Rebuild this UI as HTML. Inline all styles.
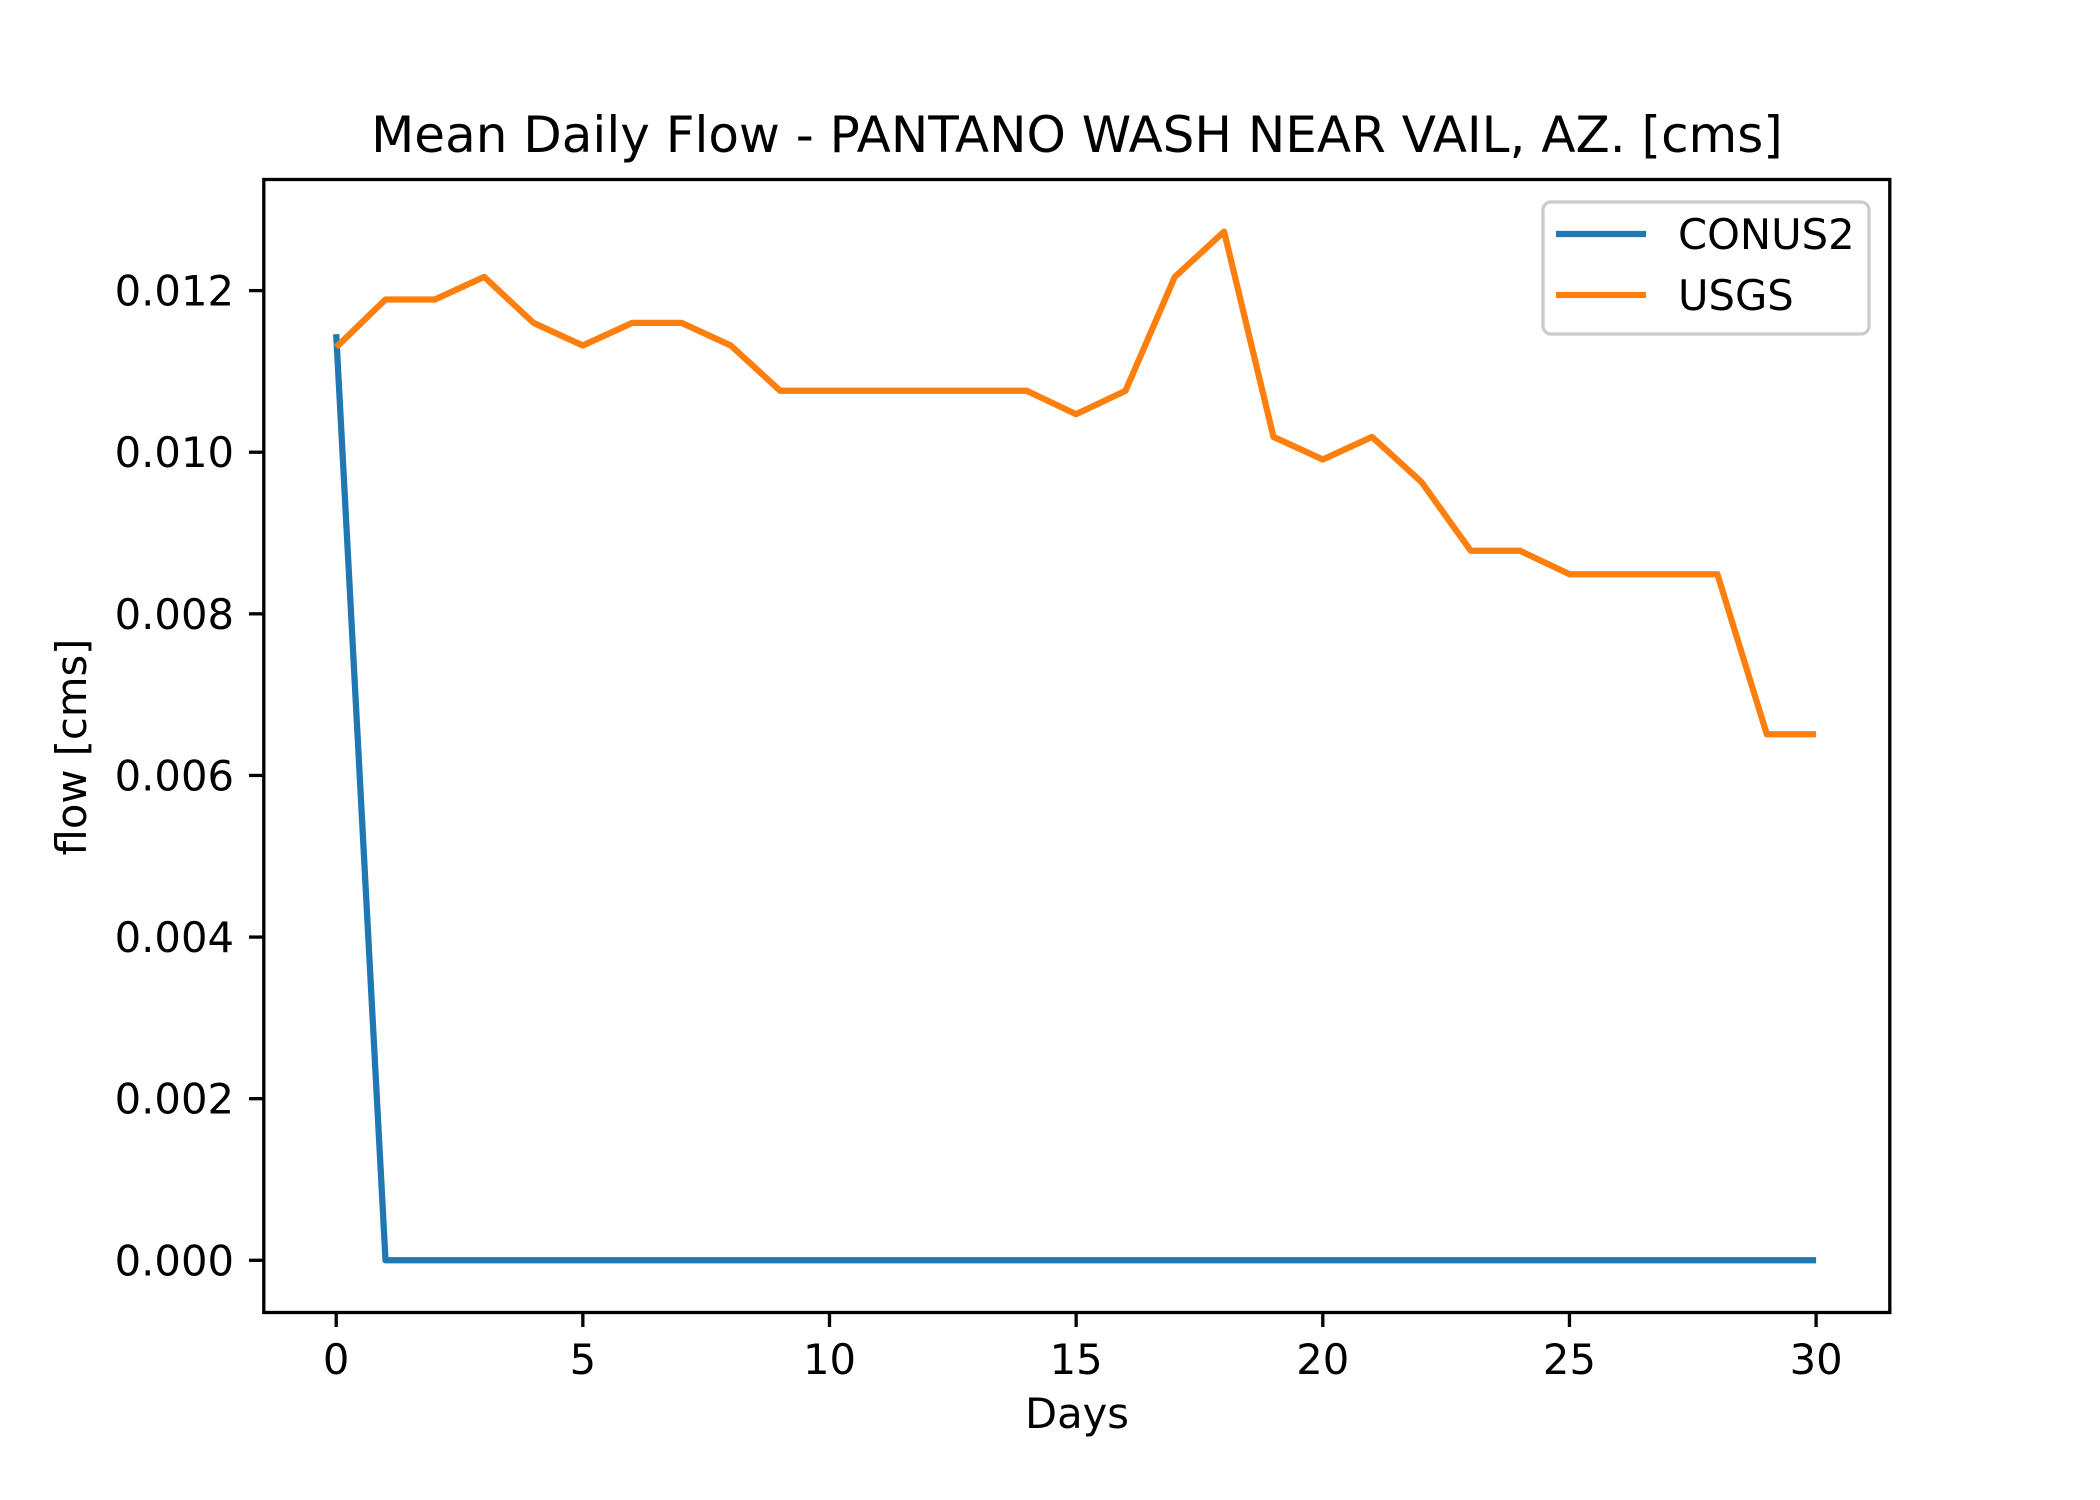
<!DOCTYPE html>
<html><head><meta charset="utf-8"><style>
html,body{margin:0;padding:0;background:#fff}
svg{display:block}
text{font-family:"DejaVu Sans","Liberation Sans",sans-serif;fill:#000}
</style></head><body>
<svg id="chart" width="2100" height="1500" viewBox="0 0 2100 1500" xmlns="http://www.w3.org/2000/svg">
<rect width="2100" height="1500" fill="#fff"/>
<text x="1077" y="152" font-size="50" text-anchor="middle">Mean Daily Flow - PANTANO WASH NEAR VAIL, AZ. [cms]</text>
<g id="grid"></g>
<g id="series"></g>
<rect x="263.8" y="179.5" width="1626" height="1133" fill="none" stroke="#000" stroke-width="3.3"/>
<g id="xticks"></g>
<g id="yticks"></g>
<text x="1077" y="1428" font-size="41.7" text-anchor="middle">Days</text>
<text transform="translate(86,747) rotate(-90)" font-size="41.7" text-anchor="middle">flow [cms]</text>
<g>
<rect x="1543" y="202" width="326" height="132" rx="8" fill="#fff" fill-opacity="0.8" stroke="#ccc" stroke-width="3.3"/>
<line x1="1556" y1="234" x2="1646" y2="234" stroke="#1f77b4" stroke-width="6.25"/>
<text x="1678" y="249" font-size="41.7">CONUS2</text>
<line x1="1556" y1="295" x2="1646" y2="295" stroke="#ff7f0e" stroke-width="6.25"/>
<text x="1678" y="310" font-size="41.7">USGS</text>
</g>
</svg>
<script>
const days = [0,1,2,3,4,5,6,7,8,9,10,11,12,13,14,15,16,17,18,19,20,21,22,23,24,25,26,27,28,29,30];
const conus2 = [0.01146,0,0,0,0,0,0,0,0,0,0,0,0,0,0,0,0,0,0,0,0,0,0,0,0,0,0,0,0,0,0];
const usgs = [0.0113,0.01189,0.01189,0.01217,0.0116,0.01132,0.0116,0.0116,0.01132,0.01076,0.01076,0.01076,0.01076,0.01076,0.01076,0.01047,0.01076,0.01217,0.01273,0.01019,0.00991,0.01019,0.00963,0.00878,0.00878,0.00849,0.00849,0.00849,0.00849,0.00651,0.00651];
const xTicks = [0,5,10,15,20,25,30];
const yTicks = [0,0.002,0.004,0.006,0.008,0.010,0.012];
const yTickLabels = ["0.000","0.002","0.004","0.006","0.008","0.010","0.012"];

const NS = "http://www.w3.org/2000/svg";
function xs(v){ return 336.2 + (v - 0) * (1816.1 - 336.2) / 30; }
function ys(v){ return 1260.3 - v * (1260.3 - 290.6) / 0.012; }

const series = document.getElementById('series');
function drawLine(vals, color, name){
  const p = document.createElementNS(NS, 'polyline');
  p.setAttribute('points', days.map((d,i)=>xs(d).toFixed(1)+','+ys(vals[i]).toFixed(1)).join(' '));
  p.setAttribute('fill','none');
  p.setAttribute('stroke',color);
  p.setAttribute('stroke-width','6.25');
  p.setAttribute('stroke-linejoin','round');
  
  
  series.appendChild(p);
}
drawLine(conus2, '#1f77b4', 'conus2-line');
drawLine(usgs, '#ff7f0e', 'usgs-line');

const xg = document.getElementById('xticks');
xTicks.forEach(t=>{
  const l = document.createElementNS(NS,'line');
  l.setAttribute('x1',xs(t)); l.setAttribute('x2',xs(t));
  l.setAttribute('y1',1312.5); l.setAttribute('y2',1327);
  l.setAttribute('stroke','#000'); l.setAttribute('stroke-width','3.3');
  
  
  xg.appendChild(l);
  const tx = document.createElementNS(NS,'text');
  tx.setAttribute('x',xs(t)); tx.setAttribute('y',1374);
  tx.setAttribute('font-size','41.7'); tx.setAttribute('text-anchor','middle');
  tx.textContent = t;
  
  
  xg.appendChild(tx);
});
const yg = document.getElementById('yticks');
yTicks.forEach((t,i)=>{
  const l = document.createElementNS(NS,'line');
  l.setAttribute('x1',249); l.setAttribute('x2',263.8);
  l.setAttribute('y1',ys(t)); l.setAttribute('y2',ys(t));
  l.setAttribute('stroke','#000'); l.setAttribute('stroke-width','3.3');
  
  
  yg.appendChild(l);
  const tx = document.createElementNS(NS,'text');
  tx.setAttribute('x',234); tx.setAttribute('y',ys(t)+15);
  tx.setAttribute('font-size','41.7'); tx.setAttribute('text-anchor','end');
  tx.textContent = yTickLabels[i];
  
  
  yg.appendChild(tx);
});
</script>
</body></html>
